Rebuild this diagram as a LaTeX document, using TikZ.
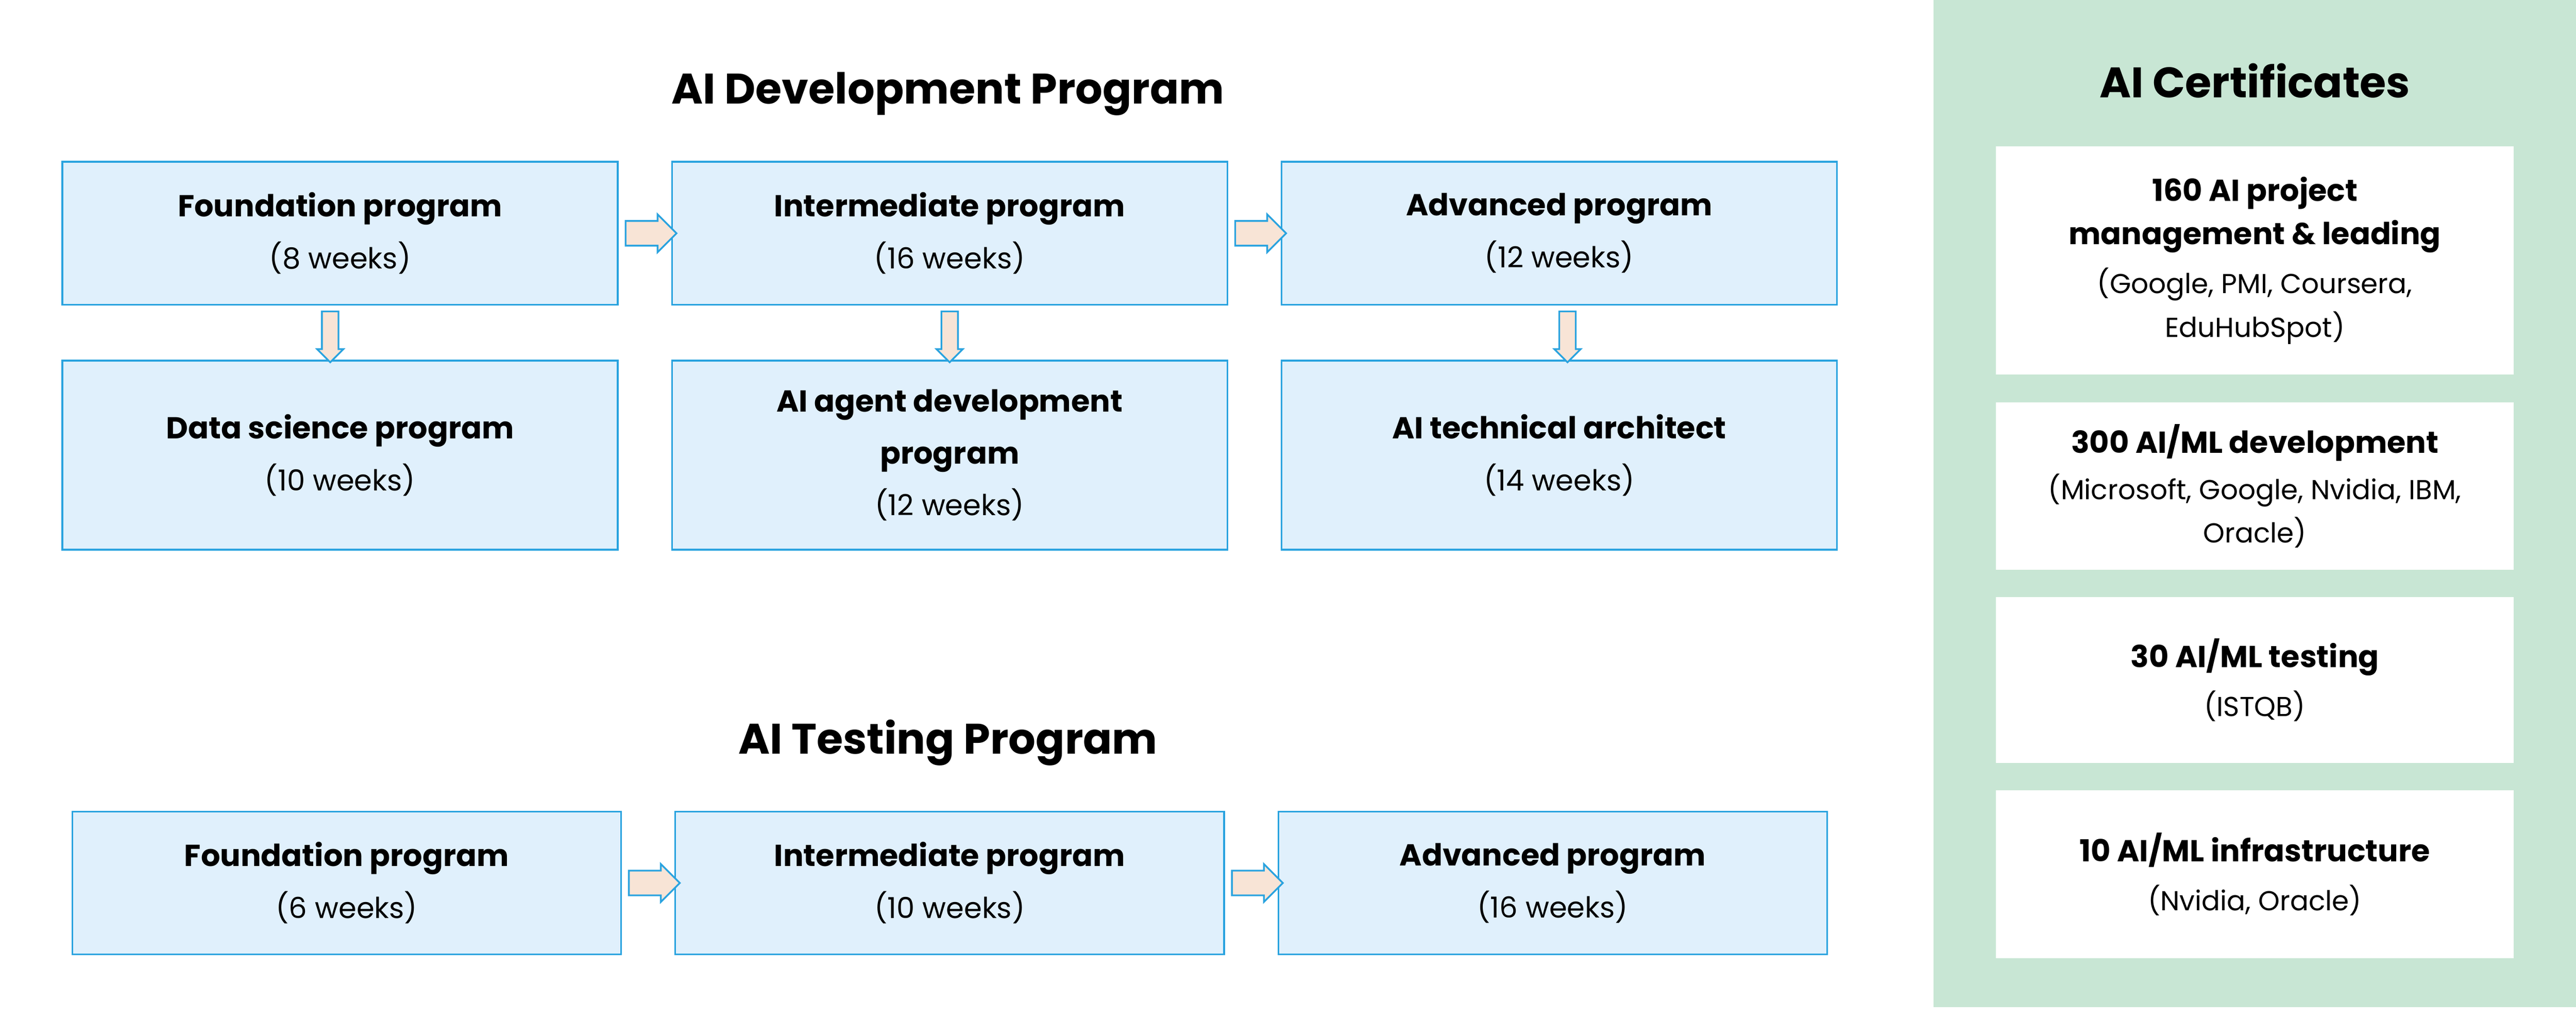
\documentclass[tikz,border=0pt]{standalone}
\usepackage{fontspec}
\setmainfont{Poppins}
\usetikzlibrary{positioning,calc,shapes.arrows}
\definecolor{boxfill}{HTML}{E0F0FC}
\definecolor{boxline}{HTML}{2AA3DF}
\definecolor{arrfill}{HTML}{F8E4D6}
\definecolor{certbg}{HTML}{C8E6D4}
\tikzset{
  prog/.style={draw=boxline,fill=boxfill,line width=0.6pt,minimum width=6.76cm,
    minimum height=1.74cm,align=center,font=\fontsize{10.5}{18}\selectfont},
  cert/.style={fill=white,minimum width=6.3cm,align=center,font=\fontsize{10.5}{15}\selectfont},
  title/.style={font=\fontsize{14.8}{18}\selectfont\bfseries},
  harrow/.style={single arrow,draw=boxline,fill=arrfill,line width=0.6pt,inner xsep=0pt,
    inner ysep=0.14cm,single arrow head extend=0.08cm,minimum height=0.62cm},
  varrow/.style={harrow,rotate=-90,inner ysep=0.09cm,single arrow head extend=0.06cm,minimum height=0.62cm}
}
\newcommand{\wk}[1]{\\{\fontsize{10}{12}\selectfont(#1 weeks)}}
\newcommand{\src}[1]{\\{\fontsize{9.5}{13}\selectfont #1}}
\begin{document}
\begin{tikzpicture}
\useasboundingbox (0,0) rectangle (31.36,-12.4);
\fill[certbg] (23.54,0) rectangle (31.36,-12.26);
% development program
\node[title] (devt) at (11.54,-1.14) {AI Development Program};
\begin{scope}[node distance=0.64cm and 0.64cm]
\node[prog] (dfound) at (4.14,-2.84) {\textbf{Foundation program}\wk{8}};
\node[prog,right=of dfound] (dinter) {\textbf{Intermediate program}\wk{16}};
\node[prog,right=of dinter] (dadv) {\textbf{Advanced program}\wk{12}};
\node[prog,minimum height=2.3cm,below=0.66cm of dfound] (ddata) {\textbf{Data science program}\wk{10}};
\node[prog,minimum height=2.3cm,below=0.66cm of dinter] (dagent) {\textbf{AI agent development}\\\textbf{program}\wk{12}};
\node[prog,minimum height=2.3cm,below=0.66cm of dadv] (darch) {\textbf{AI technical architect}\wk{14}};
\end{scope}
\node[harrow] (a1) at ($(dfound.east)!0.5!(dinter.west)$) {};
\node[harrow] (a2) at ($(dinter.east)!0.5!(dadv.west)$) {};
\node[varrow] (a3) at ($(dfound.south)!0.5!(ddata.north)+(-0.12,0)$) {};
\node[varrow] (a4) at ($(dinter.south)!0.5!(dagent.north)$) {};
\node[varrow] (a5) at ($(dadv.south)!0.5!(darch.north)+(0.1,0)$) {};
% testing program
\node[title] (testt) at (11.54,-9.04) {AI Testing Program};
\begin{scope}[node distance=0.64cm,prog/.append style={minimum width=6.68cm}]
\node[prog] (tfound) at (4.22,-10.75) {\textbf{Foundation program}\wk{6}};
\node[prog,right=of tfound] (tinter) {\textbf{Intermediate program}\wk{10}};
\node[prog,right=of tinter] (tadv) {\textbf{Advanced program}\wk{16}};
\end{scope}
\node[harrow] (a6) at ($(tfound.east)!0.5!(tinter.west)$) {};
\node[harrow] (a7) at ($(tinter.east)!0.5!(tadv.west)$) {};
% certificates
\node[title] (certt) at (27.45,-0.98) {AI Certificates};
\begin{scope}[node distance=0.32cm]
\node[cert,minimum height=2.78cm,below=0.46cm of certt] (c1) {\textbf{160 AI project}\\\textbf{management \& leading}\\[2pt]{\fontsize{9.5}{13}\selectfont(Google, PMI, Coursera,}\src{EduHubSpot)}};
\node[cert,minimum height=2.04cm,below=of c1] (c2) {\textbf{300 AI/ML development}\\[1pt]{\fontsize{9.5}{13}\selectfont(Microsoft, Google, Nvidia, IBM,}\src{Oracle)}};
\node[cert,minimum height=2.02cm,below=of c2] (c3) {\textbf{30 AI/ML testing}\\[2pt]{\fontsize{9.5}{13}\selectfont(ISTQB)}};
\node[cert,minimum height=2.04cm,below=of c3] (c4) {\textbf{10 AI/ML infrastructure}\\[2pt]{\fontsize{9.5}{13}\selectfont(Nvidia, Oracle)}};
\end{scope}
\end{tikzpicture}
\end{document}
